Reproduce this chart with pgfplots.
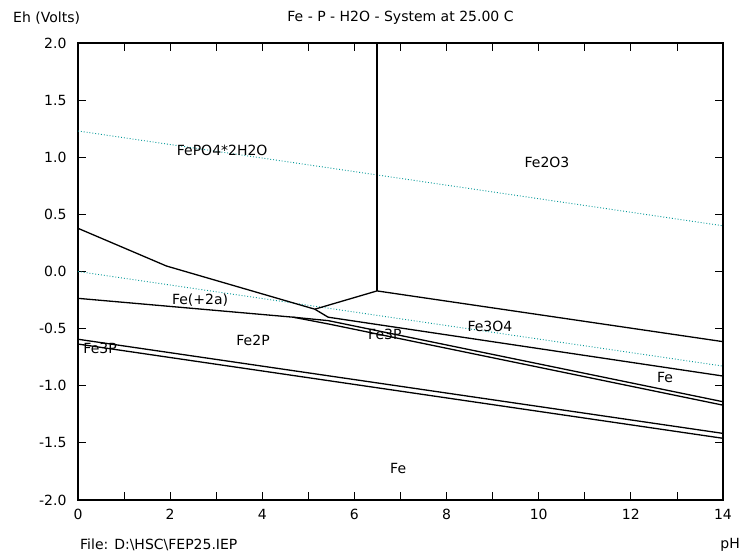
\documentclass[border=0pt]{standalone}
\usepackage{fontspec}
\setmainfont{DejaVu Sans}
\usepackage{pgfplots}
\pgfplotsset{compat=1.18}
\definecolor{waterline}{RGB}{0,150,150}
\newcommand{\chartfont}{\fontsize{14}{16}\selectfont}

\begin{document}
\begin{tikzpicture}[x=1pt,y=1pt, every node/.style={font=\chartfont}]
\path[use as bounding box] (-78,-56) rectangle (670,500);
\begin{axis}[
  at={(0,0)}, anchor=south west,
  scale only axis, width=645pt, height=457pt,
  xmin=0, xmax=14, ymin=-2, ymax=2,
  xtick={0,...,14},
  xticklabels={0,,2,,4,,6,,8,,10,,12,,14},
  ytick={-2,-1.5,-1,-0.5,0,0.5,1,1.5,2},
  yticklabels={-2.0,-1.5,-1.0,-0.5,0.0,0.5,1.0,1.5,2.0},
  tick align=inside, major tick length=8pt,
  tick style={black, line width=0.8pt},
  axis line style={line width=2pt},
  tick label style={font=\chartfont},
  xticklabel style={yshift=-6pt},
  yticklabel style={xshift=-8pt},
]
% water stability lines
\addplot[waterline, dotted, line width=0.9pt] coordinates {(0,1.23) (14,0.40)};
\addplot[waterline, dotted, line width=0.9pt] coordinates {(0,0.0) (14,-0.828)};

% phase boundaries
\addplot[black, line width=1.3pt] coordinates {(6.49,2.0) (6.49,-0.17)};
\addplot[black, line width=1.3pt] coordinates {(5.14,-0.33) (6.49,-0.17) (14,-0.614)};
\addplot[black, line width=1.3pt] coordinates {(0,0.378) (1.92,0.048) (5.14,-0.33) (5.43,-0.40)};
\addplot[black, line width=1.3pt] coordinates {(5.43,-0.40) (14,-0.915)};
\addplot[black, line width=1.3pt] coordinates {(0,-0.235) (4.67,-0.40) (5.43,-0.43) (14,-1.14)};
\addplot[black, line width=1.3pt] coordinates {(4.67,-0.40) (5.47,-0.462) (14,-1.17)};
\addplot[black, line width=1.3pt] coordinates {(0,-0.593) (14,-1.417)};
\addplot[black, line width=1.3pt] coordinates {(0,-0.635) (14,-1.46)};

% region labels
\node at (axis cs:3.13,1.063) {FePO4*2H2O};
\node at (axis cs:10.18,0.958) {Fe2O3};
\node at (axis cs:2.65,-0.25) {Fe(+2a)};
\node at (axis cs:3.80,-0.60) {Fe2P};
\node at (axis cs:0.48,-0.67) {Fe3P};
\node at (axis cs:6.66,-0.547) {Fe3P};
\node at (axis cs:8.94,-0.477) {Fe3O4};
\node at (axis cs:12.74,-0.93) {Fe};
\node at (axis cs:6.95,-1.72) {Fe};
\end{axis}
\node at (322.5,482) {Fe - P - H2O - System at 25.00 C};
\node[anchor=west, inner sep=0pt] at (-65,482) {Eh (Volts)};
\node[anchor=west, inner sep=0pt] at (2,-45) {File: D:\textbackslash HSC\textbackslash FEP25.IEP};
\node[anchor=east, inner sep=0pt] at (662,-45) {pH};
\end{tikzpicture}
\end{document}
